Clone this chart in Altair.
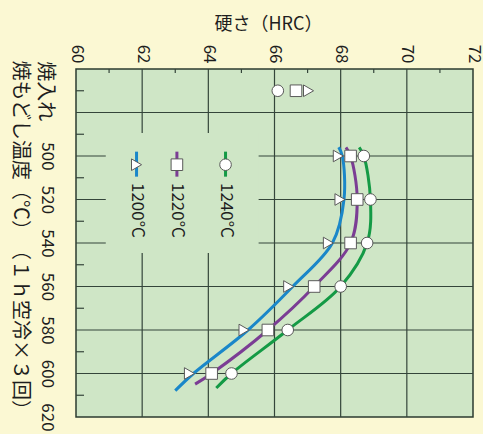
import altair as alt
import pandas as pd

# ---- data ----
temps = [500, 520, 540, 560, 580, 600]
series = ["1240°C", "1220°C", "1200°C"]
hrc_1240 = [68.7, 68.9, 68.8, 68.0, 66.4, 64.7]
hrc_1220 = [68.3, 68.5, 68.3, 67.2, 65.8, 64.1]
hrc_1200 = [68.05, 68.1, 67.75, 66.55, 65.2, 63.55]
quench_hrc = [66.1, 66.65, 67.15]      # as-quenched (焼入れ) hardness
quench_row = 470
curve_top_temp = [496, 496, 496]
curve_top_hrc = [68.56, 68.16, 67.94]
curve_bot_temp = [606.7, 604.9, 607.9]
curve_bot_hrc = [64.24, 63.6, 63.0]

x_ticks = [60, 62, 64, 66, 68, 70, 72]
y_label_vals = [470, 500, 520, 540, 560, 580, 600, 620]
h_grid = [480, 500, 520, 540, 560, 580, 600]
v_grid = [62, 64, 66, 68, 70]
left_minor = [470, 490, 510, 530, 550, 570, 590, 610]
top_minor = [61, 63, 65, 67, 69, 71]

colors = ["#149a45", "#7b3d94", "#1a87c9"]
shapes = ["circle", "square", "triangle-right"]

# ---- layout constants ----
FONT = "Noto Sans CJK JP"
BG = "#fbf8d3"
PLOT_BG = "#cfe6c6"
GRID = "#34453a"
TXT = "#1e1e1e"
LEGEND_X = [64.52, 63.05, 61.83]
LEGEND_LINE = (498, 509.5)
LEGEND_MARK = 504
LEGEND_TEXT = 512.4

xs = alt.Scale(domain=[60, 72], nice=False, zero=False)
ys = alt.Scale(domain=[460, 620], reverse=True, nice=False, zero=False)
cs = alt.Scale(domain=series, range=colors)
ss = alt.Scale(domain=series, range=shapes)

x_axis = alt.Axis(
    orient="top", values=x_ticks, grid=False, ticks=False, domain=False, tickSize=0,
    labelAngle=90, labelAlign="right", labelBaseline="middle", labelPadding=6,
    labelFont=FONT, labelFontSize=17, labelColor=TXT, labelOverlap=False, labelBound=False,
    title="硬さ（HRC）", titleAngle=0, titleFont=FONT, titleFontSize=18,
    titleFontWeight="normal", titleColor=TXT,
    titleX=192, titleY=-45, titleBaseline="middle", titleAlign="center")
y_axis = alt.Axis(
    orient="left", values=y_label_vals, grid=False, ticks=False, domain=False, tickSize=0,
    labelExpr="datum.value == 470 ? '焼入れ' : datum.label",
    labelAngle=90, labelAlign="center", labelBaseline="top", labelPadding=22,
    labelFont=FONT,
    labelFontSize={"condition": {"test": "datum.value == 470", "value": 20}, "value": 17},
    labelColor=TXT, labelOverlap=False, labelBound=False,
    title="焼もどし温度（℃）　（１ｈ空冷×３回）", titleAngle=90, titleFont=FONT,
    titleFontSize=20, titleFontWeight="normal", titleColor=TXT,
    titleAlign="left", titleBaseline="middle", titleX=-57, titleY=-9)

hrc_all = [hrc_1240, hrc_1220, hrc_1200]
pts, curve = [], []
for i, s in enumerate(series):
    curve.append({"s": s, "o": 0, "t": curve_top_temp[i], "h": curve_top_hrc[i]})
    for k, t in enumerate(temps):
        pts.append({"s": s, "t": t, "h": hrc_all[i][k]})
        curve.append({"s": s, "o": k + 1, "t": t, "h": hrc_all[i][k]})
    curve.append({"s": s, "o": 99, "t": curve_bot_temp[i], "h": curve_bot_hrc[i]})
    pts.append({"s": s, "t": quench_row, "h": quench_hrc[i]})
pts = pd.DataFrame(pts)
curve = pd.DataFrame(curve)

X = lambda f: alt.X(f, type="quantitative", scale=xs, axis=x_axis)
Y = lambda f: alt.Y(f, type="quantitative", scale=ys, axis=y_axis)

hgrid = alt.Chart(pd.DataFrame({"t": h_grid})).mark_rule(color=GRID, strokeWidth=1.2).encode(
    y=Y("t"))
vgrid = alt.Chart(pd.DataFrame({"h": v_grid})).mark_rule(color=GRID, strokeWidth=1.2).encode(
    x=X("h"))
lminor = alt.Chart(pd.DataFrame({"t": left_minor})).mark_rule(color=GRID, strokeWidth=1.2).encode(
    y=Y("t"), x=alt.value(0), x2=alt.value(8))
tminor = alt.Chart(pd.DataFrame({"h": top_minor})).mark_rule(color=GRID, strokeWidth=1.2).encode(
    x=X("h"), y=alt.value(0), y2=alt.value(4))

cover = alt.Chart(pd.DataFrame({"x1": [60.9], "x2": [65.52], "y1": [489.4], "y2": [544.6]})).mark_rect(
    color=PLOT_BG).encode(x=X("x1"), x2="x2", y=Y("y1"), y2="y2")

lines = alt.Chart(curve).mark_line(strokeWidth=3, interpolate="catmull-rom").encode(
    x=X("h"), y=Y("t"), order="o:Q",
    color=alt.Color("s:N", scale=cs, legend=None), detail="s:N")

def marks(data, offset=0):
    return alt.Chart(data).mark_point(filled=True, fill="white", stroke="#5a5a5a",
                                      strokeWidth=1, size=135, opacity=1, xOffset=offset).encode(
        x=X("h"), y=Y("t"), shape=alt.Shape("s:N", scale=ss, legend=None))

m_round = marks(pts[pts.s != "1200°C"])
m_tri = marks(pts[pts.s == "1200°C"], offset=-4)

leg = pd.DataFrame({"s": series, "x": LEGEND_X,
                    "y1": [LEGEND_LINE[0]] * 3, "y2": [LEGEND_LINE[1]] * 3,
                    "ym": [LEGEND_MARK] * 3, "yt": [LEGEND_TEXT] * 3})
leg_line = alt.Chart(leg).mark_rule(strokeWidth=3).encode(
    x=X("x"), y=Y("y1"), y2="y2", color=alt.Color("s:N", scale=cs, legend=None))
leg_mark = alt.Chart(leg).mark_point(filled=True, fill="white", stroke="#5a5a5a",
                                     strokeWidth=1, size=135, opacity=1).encode(
    x=X("x"), y=Y("ym"), shape=alt.Shape("s:N", scale=ss, legend=None))
leg_text = alt.Chart(leg).mark_text(angle=90, align="left", baseline="middle", font=FONT,
                                    fontSize=17, color=TXT).encode(
    x=X("x"), y=Y("yt"), text="s:N")

chart = alt.layer(hgrid, vgrid, lminor, tminor, cover, lines, m_round, m_tri,
                  leg_line, leg_mark, leg_text).resolve_scale(
    color="shared", shape="shared").properties(
    width=397, height=348,
    autosize=alt.AutoSizeParams(type="none"),
    padding={"left": 76, "top": 69, "right": 10, "bottom": 17},
    background=BG,
).configure_view(fill=PLOT_BG, stroke="#2d3b30", strokeWidth=1.5)

chart.save("out.html", embed_options={"renderer": "svg", "actions": False})
